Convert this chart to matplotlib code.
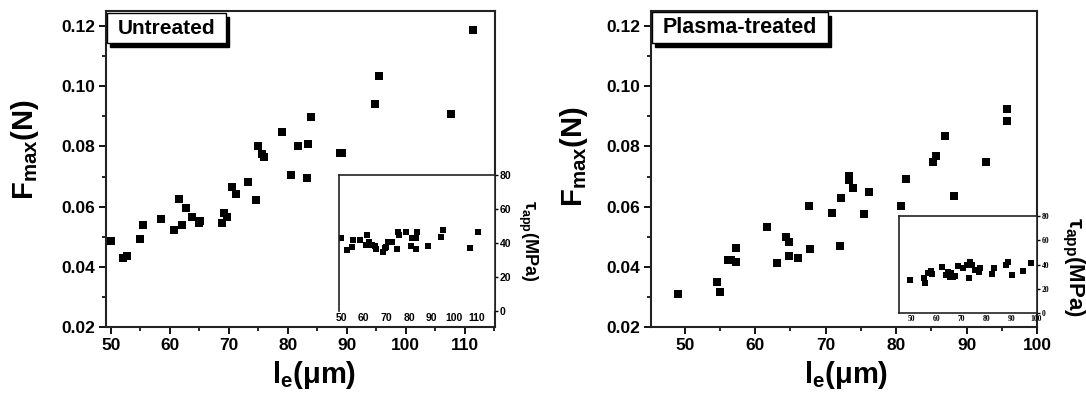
import matplotlib
matplotlib.use("Agg")
import matplotlib.pyplot as plt
from matplotlib.patches import Rectangle
from matplotlib.ticker import MultipleLocator

plt.rcParams['font.family'] = ['Liberation Sans', 'DejaVu Sans']
plt.rcParams['font.weight'] = 'bold'
plt.rcParams['mathtext.fontset'] = 'custom'
plt.rcParams['mathtext.rm'] = 'Liberation Sans:bold'
plt.rcParams['mathtext.bf'] = 'Liberation Sans:bold'
plt.rcParams['mathtext.it'] = 'Liberation Sans:bold'
plt.rcParams['mathtext.sf'] = 'Liberation Sans:bold'

# ---------------- data ----------------
untreated_le = [50.1, 52.0, 52.8, 54.9, 55.5, 58.6, 60.8, 61.6, 62.0, 62.7, 63.8,
                64.9, 65.1, 68.8, 69.2, 69.7, 70.5, 71.2, 73.3, 74.6, 74.9, 75.7,
                75.9, 79.1, 80.6, 81.7, 83.3, 83.4, 83.9, 88.9, 89.1, 94.7, 95.5,
                107.7, 111.4]
untreated_F = [0.0487, 0.0428, 0.0436, 0.0493, 0.0539, 0.0560, 0.0522, 0.0626,
               0.0539, 0.0597, 0.0567, 0.0545, 0.0553, 0.0545, 0.0578, 0.0567,
               0.0666, 0.0642, 0.0683, 0.0622, 0.0802, 0.0775, 0.0765, 0.0848,
               0.0705, 0.0801, 0.0694, 0.0808, 0.0899, 0.0777, 0.0779, 0.0940,
               0.1034, 0.0908, 0.1187]

untreated_tau_le = [50.0, 52.6, 54.7, 55.4, 58.4, 60.9, 61.6, 62.3, 63.5, 65.0,
                    65.3, 68.6, 69.4, 70.0, 70.6, 72.6, 74.5, 75.0, 75.7, 78.6,
                    80.8, 81.4, 83.0, 83.0, 83.3, 88.5, 94.1, 95.1, 106.8, 110.5]
untreated_tau = [42.7, 35.9, 37.8, 41.8, 41.8, 38.8, 44.7, 40.8, 38.8, 38.0,
                 36.5, 34.9, 36.9, 37.5, 40.8, 40.8, 36.5, 46.7, 44.7, 46.7,
                 38.4, 42.7, 42.7, 36.5, 46.7, 38.2, 43.3, 47.6, 36.9, 46.7]

plasma_le = [49.05, 54.6, 55.0, 56.2, 56.6, 57.3, 57.3, 61.6, 63.1, 64.4, 64.8,
             64.8, 66.1, 67.7, 67.8, 70.9, 72.1, 72.2, 73.3, 73.3, 73.9, 75.5,
             76.1, 80.7, 81.4, 85.2, 85.6, 87.0, 88.2, 92.8, 95.7, 95.8]
plasma_F = [0.0310, 0.0351, 0.0317, 0.0423, 0.0423, 0.0416, 0.0464, 0.0531,
            0.0412, 0.0500, 0.0481, 0.0436, 0.0430, 0.0603, 0.0458, 0.0578,
            0.0470, 0.0628, 0.0702, 0.0688, 0.0661, 0.0574, 0.0647, 0.0602,
            0.0692, 0.0749, 0.0769, 0.0836, 0.0636, 0.0747, 0.0885, 0.0923]

plasma_tau_le = [49.6, 55.0, 55.5, 56.7, 57.8, 58.1, 62.2, 63.9, 64.6, 65.3, 66.0,
                 66.7, 67.4, 68.7, 70.8, 72.1, 73.1, 73.5, 74.2, 75.6, 77.2, 77.6,
                 82.4, 83.1, 87.9, 88.5, 90.3, 94.7, 97.7]
plasma_tau = [27.2, 28.6, 25.0, 32.7, 34.6, 32.2, 38.2, 31.3, 34.1, 29.9, 32.7,
              29.9, 30.5, 39.0, 36.9, 39.6, 28.6, 42.3, 39.6, 35.5, 34.1, 36.9,
              32.2, 36.9, 39.6, 42.3, 31.3, 34.9, 41.5]

F_ticks = [0.02, 0.04, 0.06, 0.08, 0.10, 0.12]
untreated_xticks = [50, 60, 70, 80, 90, 100, 110]
plasma_xticks = [50, 60, 70, 80, 90, 100]
tau_ticks = [0, 20, 40, 60, 80]

# ---------------- figure ----------------
W, H = 1086, 393
fig = plt.figure(figsize=(W / 100, H / 100), dpi=100)


def px_axes(l, t, r, b):
    return fig.add_axes([l / W, (H - b) / H, (r - l) / W, (b - t) / H])


def style_main(ax, xlim, xticks):
    ax.set_xlim(*xlim)
    ax.set_ylim(0.02, 0.125)
    ax.set_xticks(xticks)
    ax.set_yticks(F_ticks)
    ax.set_yticklabels([f"{v:.2f}" for v in F_ticks])
    ax.xaxis.set_minor_locator(MultipleLocator(5))
    ax.yaxis.set_minor_locator(MultipleLocator(0.01))
    ax.tick_params(which='major', direction='out', length=5, width=1.3,
                   labelsize=12.5, pad=3)
    ax.tick_params(which='minor', direction='out', length=3, width=1.2)
    ax.tick_params(top=False, right=False, which='both')
    for s in ax.spines.values():
        s.set_linewidth(1.5)
        s.set_color('#222222')
    for lab in ax.get_xticklabels() + ax.get_yticklabels():
        lab.set_fontweight('bold')


def label_box(text, l, t, r, b, size):
    # black drop shadow, then white framed box, then the text
    fig.patches.append(Rectangle(((l + 3) / W, (H - b - 4) / H),
                                 (r - l) / W, (b - t) / H, transform=fig.transFigure,
                                 facecolor='black', edgecolor='black', zorder=5))
    fig.patches.append(Rectangle((l / W, (H - b) / H), (r - l) / W, (b - t) / H,
                                 transform=fig.transFigure, facecolor='white',
                                 edgecolor='black', linewidth=1.0, zorder=6))
    fig.text((l + r) / 2 / W, (H - (t + b) / 2) / H, text, ha='center', va='center',
             fontsize=size, fontweight='bold', zorder=7)


def style_inset(ax, xlim, xticks, labsize, family, bottom_spine):
    ax.set_xlim(*xlim)
    ax.set_ylim(0, 80)
    ax.set_xticks(xticks)
    ax.set_yticks(tau_ticks)
    ax.yaxis.tick_right()
    ax.tick_params(axis='y', direction='out', length=2.5, width=1.0, pad=1,
                   labelsize=labsize, left=False, right=True)
    ax.tick_params(axis='x', length=0, pad=1.5, labelsize=labsize)
    for lab in ax.get_xticklabels() + ax.get_yticklabels():
        lab.set_fontweight('bold')
        lab.set_family(family)
    for s in ax.spines.values():
        s.set_linewidth(1.2)
        s.set_color('#222222')
    ax.spines['bottom'].set_visible(bottom_spine)


# ---- left panel ----
axL = px_axes(106, 11, 495, 327)
axL.scatter(untreated_le, untreated_F, marker='s', s=36, color='black', linewidths=0, zorder=3)
style_main(axL, (49.2, 115.1), untreated_xticks)
label_box('Untreated', 107, 13, 226, 43, 15)

insL = px_axes(339, 175, 495, 311)
insL.scatter(untreated_tau_le, untreated_tau, marker='s', s=24, color='black', linewidths=0)
style_inset(insL, (49.1, 117.9), untreated_xticks, 7.5, ['Liberation Sans'], False)

# ---- right panel ----
axR = px_axes(651, 11, 1037, 327)
axR.scatter(plasma_le, plasma_F, marker='s', s=36, color='black', linewidths=0, zorder=3)
style_main(axR, (45.2, 100.0), plasma_xticks)
label_box('Plasma-treated', 652, 12, 828, 43, 15.5)

insR = px_axes(899, 216, 1037, 313)
insR.scatter(plasma_tau_le, plasma_tau, marker='s', s=14, color='black', linewidths=0)
style_inset(insR, (45.1, 100.2), plasma_xticks, 5.5, ['Liberation Serif'], True)

# ---- axis titles ----
ylab = r'$\mathrm{F_{max}(N)}$'
xlab = r'$\mathrm{l_e(\mu m)}$'
fig.text(25 / W, (H - 150) / H, ylab, rotation=90, ha='center', va='center', fontsize=21)
fig.text(574 / W, (H - 157) / H, ylab, rotation=90, ha='center', va='center', fontsize=21)
fig.text(314 / W, (H - 383) / H, xlab, ha='center', va='baseline', fontsize=21)
fig.text(846 / W, (H - 383) / H, xlab, ha='center', va='baseline', fontsize=21)

taulab = r'$\mathrm{\tau_{app}(MPa)}$'
fig.text(528 / W, (H - 241) / H, taulab, rotation=270, ha='center', va='center', fontsize=13)
fig.text(1073 / W, (H - 267) / H, taulab, rotation=270, ha='center', va='center', fontsize=16)

fig.savefig('out.png', dpi=100)
